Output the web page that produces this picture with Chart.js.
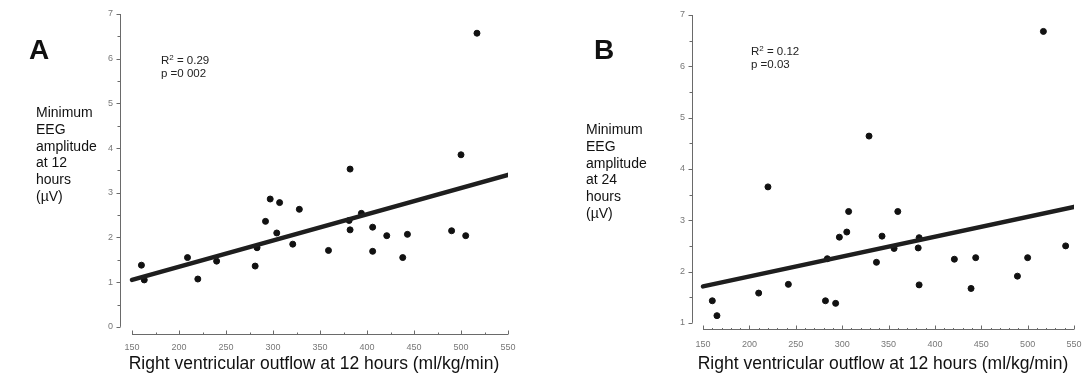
<!DOCTYPE html>
<html>
<head>
<meta charset="utf-8">
<script src="https://cdn.jsdelivr.net/npm/chart.js@4/dist/chart.umd.min.js"></script>
<style>
  html, body { margin: 0; padding: 0; background: #fff; }
  #wrap { position: relative; width: 1085px; height: 377px; overflow: hidden; font-family: "Liberation Sans", Arial, sans-serif; color: #111; }
  .panel { position: absolute; top: 0; height: 377px; }
  .letter { position: absolute; font-weight: bold; font-size: 28px; line-height: 28px; }
  .ytitle { position: absolute; font-size: 14px; line-height: 16.8px; }
  .stat { position: absolute; font-size: 11.5px; line-height: 13px; color: #222; }
  .stat sup { font-size: 8px; line-height: 0; vertical-align: 4px; }
</style>
</head>
<body>
<div id="wrap">
  <div class="panel" style="left:0;width:545px"><canvas id="chartA"></canvas></div>
  <div class="panel" style="left:545px;width:550px"><canvas id="chartB"></canvas></div>

  <div class="letter" style="left:29px;top:36px">A</div>
  <div class="letter" style="left:594px;top:36px">B</div>

  <div class="ytitle" style="left:36px;top:104px">Minimum<br>EEG<br>amplitude<br>at 12<br>hours<br>(&micro;V)</div>
  <div class="ytitle" style="left:586px;top:121px">Minimum<br>EEG<br>amplitude<br>at 24<br>hours<br>(&micro;V)</div>

  <div class="stat" style="left:161px;top:54px">R<sup>2</sup> = 0.29<br>p =0 002</div>
  <div class="stat" style="left:751px;top:45px">R<sup>2</sup> = 0.12<br>p =0.03</div>
</div>

<script>
// right ventricular outflow (ml/kg/min) vs minimum EEG amplitude (uV)
const outflowA = [160, 163, 209, 220, 240, 281, 283, 292, 297, 307, 304, 321, 328, 359, 381,
                  382, 394, 406, 406, 421, 438, 443, 490, 505, 382, 500, 517];
const eegA     = [1.38, 1.05, 1.55, 1.07, 1.47, 1.36, 1.77, 2.36, 2.86, 2.78, 2.10, 1.85, 2.63, 1.71, 2.38,
                  2.17, 2.54, 2.23, 1.69, 2.04, 1.55, 2.07, 2.15, 2.04, 3.53, 3.85, 6.57];

const outflowB = [160, 165, 220, 210, 242, 282, 284, 293, 297, 305, 307, 337, 343, 356, 360,
                  382, 383, 383, 421, 444, 439, 489, 500, 541, 329, 517];
const eegB     = [1.43, 1.14, 3.65, 1.58, 1.75, 1.43, 2.25, 1.38, 2.67, 2.77, 3.17, 2.18, 2.69, 2.45, 3.17,
                  2.46, 2.66, 1.74, 2.24, 2.27, 1.67, 1.91, 2.27, 2.50, 4.64, 6.68];

// fitted regression lines, value at each end of the x range
const fitX  = [150, 550];
const fitA  = [1.05, 3.40];
const fitB  = [1.71, 3.26];

// axis ticks
const xMajor  = [150, 200, 250, 300, 350, 400, 450, 500, 550];
const yMajorA = [0, 1, 2, 3, 4, 5, 6, 7];
const yMajorB = [1, 2, 3, 4, 5, 6, 7];

const xTitle = 'Right ventricular outflow at 12 hours (ml/kg/min)';

function range(a, b, step) {
  const out = [];
  for (let v = a; v <= b + 1e-9; v += step) out.push(Math.round(v * 100) / 100);
  return out;
}

// SigmaPlot-style detached axes: lines span only the tick range,
// y ticks point outwards, x ticks point up into the plot
const detachedAxes = {
  id: 'detachedAxes',
  beforeDatasetsDraw(chart, args, opts) {
    const { ctx, chartArea } = chart;
    const x = chart.scales.x, y = chart.scales.y;
    ctx.save();
    ctx.strokeStyle = '#6a6a6a';
    ctx.lineWidth = 1;

    const left = Math.round(chartArea.left) + 0.5;
    const bottom = Math.round(chartArea.bottom) + 0.5;

    ctx.beginPath();
    ctx.moveTo(left, y.getPixelForValue(opts.yMin));
    ctx.lineTo(left, y.getPixelForValue(opts.yMax));
    ctx.moveTo(x.getPixelForValue(opts.xMin), bottom);
    ctx.lineTo(x.getPixelForValue(opts.xMax), bottom);
    ctx.stroke();

    ctx.beginPath();
    y.ticks.forEach(t => {
      const py = Math.round(y.getPixelForValue(t.value)) + 0.5;
      const len = Number.isInteger(t.value) ? 4 : 3;
      ctx.moveTo(left - len, py);
      ctx.lineTo(left, py);
    });
    x.ticks.forEach(t => {
      const px = Math.round(x.getPixelForValue(t.value)) + 0.5;
      const len = t.value % 50 === 0 ? 4 : (t.value % 25 === 0 ? 2 : 1.5);
      ctx.moveTo(px, bottom);
      ctx.lineTo(px, bottom - len);
    });
    ctx.stroke();
    ctx.restore();
  }
};

function makeChart(id, xs, ys, fit, cfg) {
  const points = xs.map((v, i) => ({ x: v, y: ys[i] }));
  const line = fitX.map((v, i) => ({ x: v, y: fit[i] }));
  return new Chart(document.getElementById(id), {
    type: 'scatter',
    data: {
      datasets: [
        {
          type: 'line',
          data: line,
          borderColor: '#1e1e1e',
          borderWidth: 4.5,
          pointRadius: 0,
          borderCapStyle: 'round'
        },
        {
          data: points,
          backgroundColor: '#111',
          borderColor: '#111',
          pointRadius: 3,
          pointHoverRadius: 3
        }
      ]
    },
    options: {
      responsive: true,
      maintainAspectRatio: false,
      animation: false,
      events: [],
      layout: { padding: { top: cfg.padTop, right: cfg.padRight, left: 0, bottom: 0 } },
      plugins: {
        legend: { display: false },
        tooltip: { enabled: false },
        detachedAxes: { xMin: 150, xMax: 550, yMin: cfg.yTicks[0], yMax: 7 }
      },
      scales: {
        x: {
          type: 'linear',
          min: cfg.xMin,
          max: 550,
          afterBuildTicks: s => { s.ticks = cfg.xTicks.map(v => ({ value: v })); },
          afterFit: s => { s.height = cfg.xHeight; },
          grid: { display: false, drawTicks: false },
          border: { display: false },
          ticks: {
            autoSkip: false,
            maxRotation: 0,
            padding: cfg.xTickPad,
            color: '#777',
            font: { family: 'Liberation Sans, Arial', size: 9 },
            callback: v => (xMajor.includes(v) ? String(v) : '')
          },
          title: {
            display: true,
            text: xTitle,
            color: '#111',
            font: { family: 'Liberation Sans, Arial', size: 17.5 },
            padding: { top: 0, bottom: 2 }
          }
        },
        y: {
          type: 'linear',
          min: cfg.yMin,
          max: 7,
          afterBuildTicks: s => { s.ticks = cfg.yMinorTicks.map(v => ({ value: v })); },
          afterFit: s => { s.width = cfg.yWidth; },
          grid: { display: false, drawTicks: false },
          border: { display: false },
          ticks: {
            autoSkip: false,
            padding: 7,
            color: '#777',
            font: { family: 'Liberation Sans, Arial', size: 9 },
            callback: v => (cfg.yTicks.includes(v) ? String(v) : '')
          }
        }
      }
    },
    plugins: [detachedAxes]
  });
}

makeChart('chartA', outflowA, eegA, fitA, {
  xMin: 137.2, yMin: -0.16, padTop: 14, padRight: 37,
  xHeight: 43, yWidth: 120, xTickPad: 8,
  xTicks: range(150, 550, 25),
  yTicks: yMajorA, yMinorTicks: range(0, 7, 0.5)
});

makeChart('chartB', outflowB, eegB, fitB, {
  xMin: 138.1, yMin: 0.88, padTop: 15, padRight: 21,
  xHeight: 48, yWidth: 147, xTickPad: 10,
  xTicks: range(150, 550, 10),
  yTicks: yMajorB, yMinorTicks: range(1, 7, 0.5)
});
</script>
</body>
</html>
